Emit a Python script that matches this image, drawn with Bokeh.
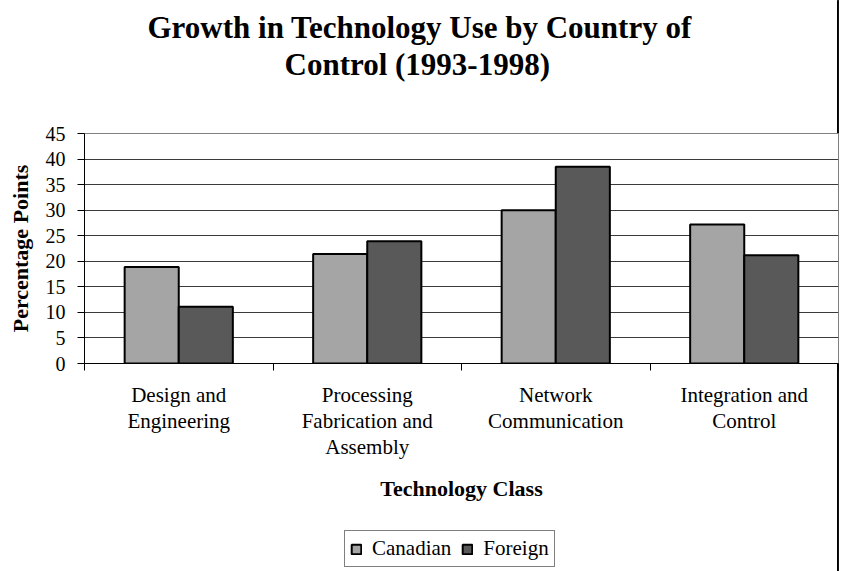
from bokeh.plotting import figure
from bokeh.layouts import column
from bokeh.models import (ColumnDataSource, FactorRange, Range1d, LinearAxis, FixedTicker,
                          Legend, LegendItem, Title)
from bokeh.transform import dodge
from bokeh.embed import file_html
from bokeh.resources import INLINE

categories = ["Design and Engineering", "Processing Fabrication and Assembly",
              "Network Communication", "Integration and Control"]
category_labels = ["Design and\nEngineering", "Processing\nFabrication and\nAssembly",
                   "Network\nCommunication", "Integration and\nControl"]
canadian = [18.9, 21.4, 30.0, 27.2]
foreign = [11.1, 23.9, 38.5, 21.2]
series_names = ["Canadian", "Foreign"]
series_values = [canadian, foreign]
series_colors = ["#a5a5a5", "#595959"]
y_ticks = [0, 5, 10, 15, 20, 25, 30, 35, 40, 45]
title_lines = ["Growth in Technology Use by Country of", "Control (1993-1998)"]

FONT = "Liberation Serif"
BAR_W = 0.287

# ---------- legend layer (full window, drawn underneath the chart) ----------
# its range (0..1) keeps the series' proxy bars out of view; only the legend shows
lf = figure(width=841, height=571, x_range=Range1d(0, 1), y_range=Range1d(0, 1),
            output_backend="svg", toolbar_location=None, x_axis_type=None,
            y_axis_type=None, min_border=0, title_location=None)
lf.grid.visible = False
lf.outline_line_color = None
lf.background_fill_color = "white"
lf.border_fill_color = "white"
leg_items = []
for name, vals, col in zip(series_names, series_values, series_colors):
    rr = lf.vbar(x=vals, top=vals, width=0.1, fill_color=col, line_color="black",
                 line_width=2)
    leg_items.append(LegendItem(label=name, renderers=[rr]))
legend = Legend(items=leg_items, orientation="horizontal", location=(260, 4),
                glyph_width=12, glyph_height=12, label_standoff=10, spacing=10,
                padding=5, margin=0, border_line_color="black", border_line_width=1,
                label_text_font=FONT, label_text_font_size="21px", label_text_color="black",
                label_height=22, background_fill_color="white", background_fill_alpha=1.0)
lf.add_layout(legend, "center")

# ---------- main chart (overlaid on top, transparent surround) ----------
source = ColumnDataSource(dict(cat=categories, canadian=canadian, foreign=foreign))

p = figure(width=841, height=571, x_range=FactorRange(factors=categories),
           y_range=Range1d(0, 45), output_backend="svg", toolbar_location=None,
           x_axis_type=None, min_border_left=84, min_border_right=3,
           min_border_top=133, min_border_bottom=0)
p.frame_width = 754
p.frame_height = 230
p.x_range.range_padding = 0
p.background_fill_color = "white"
p.border_fill_color = None
p.outline_line_color = "#808080"
p.outline_line_width = 1
p.margin = (-571, 0, 0, 0)

p.vbar(x=dodge("cat", -BAR_W / 2, range=p.x_range), top="canadian", width=BAR_W,
       source=source, fill_color=series_colors[0], line_color="black", line_width=2)
p.vbar(x=dodge("cat", BAR_W / 2, range=p.x_range), top="foreign", width=BAR_W,
       source=source, fill_color=series_colors[1], line_color="black", line_width=2)

# y axis
yax = p.yaxis[0]
yax.ticker = FixedTicker(ticks=y_ticks)
yax.axis_line_color = "black"
yax.major_tick_out = 7
yax.major_tick_in = 0
yax.minor_tick_line_color = None
yax.major_label_text_font = FONT
yax.major_label_text_font_size = "20px"
yax.major_label_text_color = "black"
yax.major_label_standoff = 12
yax.axis_label = "Percentage Points"
yax.axis_label_text_font = FONT
yax.axis_label_text_font_style = "bold"
yax.axis_label_text_font_size = "22px"
yax.axis_label_text_color = "black"
yax.axis_label_standoff = 10

p.ygrid.ticker = FixedTicker(ticks=y_ticks)
p.ygrid.grid_line_color = "#3a3a3a"
p.ygrid.grid_line_width = 1
p.xgrid.grid_line_color = None

# x axis: labels at category centres, ticks at category boundaries
n = len(categories)
centers = [i + 0.5 for i in range(n)]
bounds = [float(i) for i in range(n + 1)]
xax = LinearAxis(ticker=FixedTicker(ticks=centers, minor_ticks=bounds))
xax.major_label_overrides = {c: lab for c, lab in zip(centers, category_labels)}
xax.major_tick_line_color = None
xax.major_tick_out = 0
xax.major_tick_in = 0
xax.minor_tick_line_color = "black"
xax.minor_tick_out = 7
xax.minor_tick_in = 0
xax.axis_line_color = "black"
xax.major_label_text_font = FONT
xax.major_label_text_font_size = "21px"
xax.major_label_text_line_height = 1.1
xax.major_label_text_color = "black"
xax.major_label_standoff = 12
xax.axis_label = "Technology Class"
xax.axis_label_text_font = FONT
xax.axis_label_text_font_style = "bold"
xax.axis_label_text_font_size = "22px"
xax.axis_label_text_color = "black"
xax.axis_label_standoff = 14
p.add_layout(xax, "below")

# title (two lines), lifted above the frame by an empty spacer title
p.title.visible = False
spacer = Title(text=" ", text_font_size="10px", standoff=39)
t2 = Title(text=title_lines[1], align="left", offset=200, text_font=FONT,
           text_font_style="bold", text_font_size="31px", text_color="black", standoff=0)
t1 = Title(text=title_lines[0], align="left", offset=63, text_font=FONT,
           text_font_style="bold", text_font_size="31px", text_color="black", standoff=0)
p.add_layout(spacer, "above")
p.add_layout(t2, "above")
p.add_layout(t1, "above")

layout = column(lf, p, spacing=0)
open("out.html", "w").write(file_html(layout, INLINE))
